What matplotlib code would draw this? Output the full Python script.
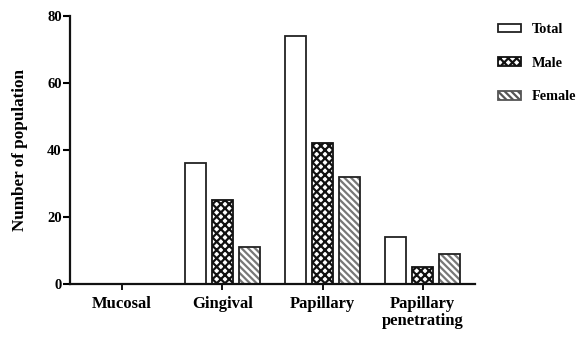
import matplotlib.pyplot as plt
import numpy as np
from matplotlib.patches import Patch

plt.rcParams['font.family'] = 'serif'
plt.rcParams['font.serif'] = ['Liberation Serif', 'DejaVu Serif']
plt.rcParams['font.weight'] = 'bold'
plt.rcParams['axes.labelweight'] = 'bold'
plt.rcParams['hatch.linewidth'] = 1.6

categories = ["Mucosal", "Gingival", "Papillary", "Papillary\npenetrating"]
total = [0, 36, 74, 14]
male = [0, 25, 42, 5]
female = [0, 11, 32, 9]
yticks = [0, 20, 40, 60, 80]

fig = plt.figure(figsize=(5.76, 3.38), dpi=100, facecolor="white")
ax = fig.add_axes([70/576, 54/338, 405/576, 268/338])

x = np.arange(len(categories))
w = 0.21
step = 0.27

ax.bar(x - step, total, w, facecolor="white", edgecolor="#222222", lw=1.3)
ax.bar(x, male, w, facecolor="white", edgecolor="#111111", lw=1.3, hatch="xxxx")
# grey hatch underneath, dark outline on top
ax.bar(x + step, female, w, facecolor="white", edgecolor="#777777", lw=0,
       hatch="\\\\\\\\\\")
ax.bar(x + step, female, w, facecolor="none", edgecolor="#222222", lw=1.3)

handles = [
    Patch(facecolor="white", edgecolor="#222222", lw=1.3, label="Total"),
    Patch(facecolor="white", edgecolor="#111111", lw=1.3, hatch="xxxx", label="Male"),
    Patch(facecolor="white", edgecolor="#555555", lw=1.3, hatch="\\\\\\\\\\", label="Female"),
]

ax.set_xlim(-0.52, len(categories) - 0.48)
ax.set_ylim(0, 80)
ax.set_yticks(yticks)
ax.set_xticks(x)
ax.set_xticklabels(categories, fontsize=12, linespacing=1.05)
ax.tick_params(axis='y', labelsize=10.5, width=1.5, length=5, pad=1)
ax.tick_params(axis='x', width=1.3, length=4, pad=5)

for s in ["top", "right"]:
    ax.spines[s].set_visible(False)
for s in ["left", "bottom"]:
    ax.spines[s].set_linewidth(1.6)
    ax.spines[s].set_color("#111111")

ax.set_ylabel("Number of population", fontsize=12.3, labelpad=14)

fig.legend(handles=handles, loc="upper left", bbox_to_anchor=(498/576, 1 - 23/338), frameon=False,
           fontsize=10.3, handlelength=1.6, handleheight=0.55, handletextpad=0.75,
           labelspacing=1.45, borderpad=0, borderaxespad=0)

fig.savefig("out.png", dpi=100)
